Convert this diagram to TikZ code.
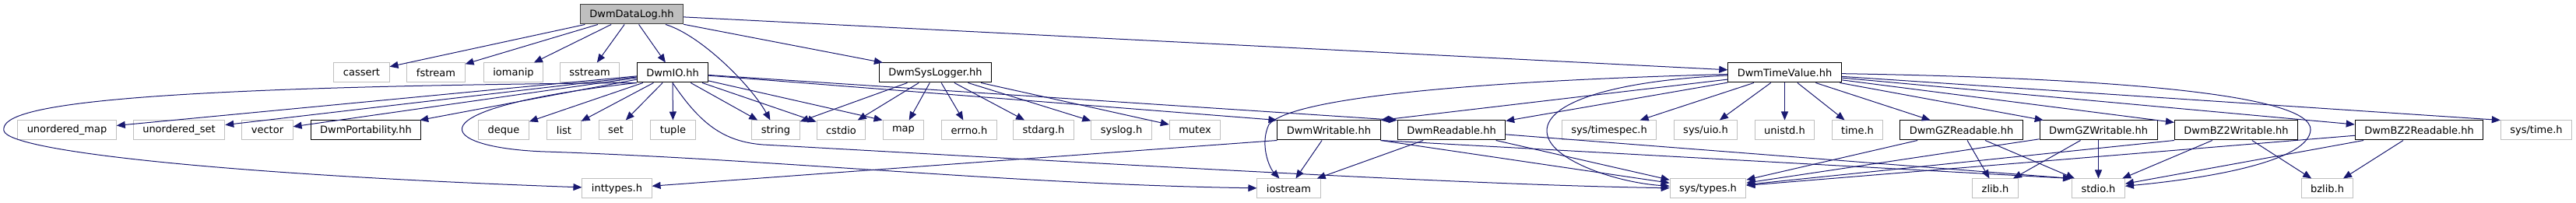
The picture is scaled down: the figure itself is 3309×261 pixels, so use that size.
\documentclass[tikz,border=0pt]{standalone}
\usepackage{fontspec}
\setmainfont{DejaVu Sans}
\usepackage{tikz}
\usetikzlibrary{arrows.meta}
\definecolor{depblue}{HTML}{191970}
\definecolor{sysframe}{HTML}{BFBFBF}
\definecolor{curfill}{HTML}{BFBFBF}
\definecolor{curframe}{HTML}{404040}
\tikzset{
  inc/.style={draw=sysframe,line width=0.5pt,minimum height=12.5pt,inner xsep=6pt,inner ysep=0pt,font=\fontsize{6.5}{7.8}\selectfont},
  hdr/.style={inc,draw=black,fill=white,line width=0.5pt},
  cur/.style={inc,draw=curframe,fill=curfill,line width=0.5pt},
  dep/.style={-{Triangle[length=5.5pt,width=4.5pt]},draw=depblue,line width=0.5pt},
}
\begin{document}
\begin{tikzpicture}[x=0.5pt,y=-0.5pt]
\useasboundingbox (0,0) rectangle (3309,261);
% top
\node[cur] (log) at (811.5,18.5) {DwmDataLog.hh};
% second row
\node[inc] (cassert) at (464.5,93.5) {cassert};
\node[inc] (fstream) at (560,93.5) {fstream};
\node[inc] (iomanip) at (659.5,93.5) {iomanip};
\node[inc] (sstream) at (757.5,93.5) {sstream};
\node[hdr] (io) at (864,93.5) {DwmIO.hh};
\node[hdr] (slog) at (1201.5,93.5) {DwmSysLogger.hh};
\node[hdr] (tv) at (2292.5,93.5) {DwmTimeValue.hh};
% third row
\node[inc] (umap) at (86,167.5) {unordered\_map};
\node[inc] (uset) at (230,167.5) {unordered\_set};
\node[inc] (vector) at (343.5,167.5) {vector};
\node[hdr] (port) at (470,167.5) {DwmPortability.hh};
\node[inc] (deque) at (647,167.5) {deque};
\node[inc] (list) at (724.5,167.5) {list};
\node[inc] (set) at (791,167.5) {set};
\node[inc] (tuple) at (864.5,167.5) {tuple};
\node[inc] (string) at (996.5,167.5) {string};
\node[inc] (cstdio) at (1080.5,167.5) {cstdio};
\node[inc] (map) at (1160.5,167.5) {map};
\node[inc] (errno) at (1245,167.5) {errno.h};
\node[inc] (stdarg) at (1340.5,167.5) {stdarg.h};
\node[inc] (syslog) at (1440.5,167.5) {syslog.h};
\node[inc] (mutex) at (1535,167.5) {mutex};
\node[hdr] (dw) at (1707,167.5) {DwmWritable.hh};
\node[hdr] (dr) at (1864.5,167.5) {DwmReadable.hh};
\node[inc] (timespec) at (2067,167.5) {sys/timespec.h};
\node[inc] (uio) at (2191,167.5) {sys/uio.h};
\node[inc] (unistd) at (2292.5,167.5) {unistd.h};
\node[inc] (timeh) at (2386,167.5) {time.h};
\node[hdr] (gzr) at (2519.5,167.5) {DwmGZReadable.hh};
\node[hdr] (gzw) at (2695.5,167.5) {DwmGZWritable.hh};
\node[hdr] (bzw) at (2872.5,167.5) {DwmBZ2Writable.hh};
\node[hdr] (bzr) at (3107.5,167.5) {DwmBZ2Readable.hh};
\node[inc] (systime) at (3258,167.5) {sys/time.h};
% bottom row
\node[inc] (inttypes) at (792.5,242.5) {inttypes.h};
\node[inc] (iostream) at (1655.5,242.5) {iostream};
\node[inc] (systypes) at (2194,242.5) {sys/types.h};
\node[inc] (zlib) at (2563,242.5) {zlib.h};
\node[inc] (stdio) at (2695.5,242.5) {stdio.h};
\node[inc] (bzlib) at (2989.5,242.5) {bzlib.h};

% DwmDataLog.hh
\foreach \dst in {cassert,fstream,iomanip,sstream,io,slog,tv} \draw[dep] (log) -- (\dst);
\draw[dep] (log) .. controls (900,45) and (965,110) .. (string);
% DwmIO.hh
\foreach \dst in {umap,uset,vector,port,deque,list,set,tuple,string,cstdio} \draw[dep] (io) -- (\dst);
\draw[dep] (io) -- (map.north west);
\draw[dep] (io) -- (dw.north west);
\draw[dep] (io) -- (dr.north west);
\draw[dep] (io.south west) .. controls (100,112) and (0,140) .. (5,168)
  .. controls (10,195) and (300,225) .. (inttypes);
\draw[dep] (io.south west) .. controls (520,140) and (560,190) .. (700,195)
  .. controls (1000,205) and (1300,237) .. (iostream);
\draw[dep] (io.south) .. controls (900,160) and (930,182) .. (980,186)
  .. controls (1500,215) and (1900,238) .. (systypes);
% DwmSysLogger.hh
\foreach \dst in {string,cstdio,map,errno,stdarg,syslog,mutex} \draw[dep] (slog) -- (\dst);
% DwmTimeValue.hh
\foreach \dst in {timespec,uio,unistd,timeh,gzr,gzw,bzw,bzr,dr} \draw[dep] (tv) -- (\dst);
\draw[dep] (tv) -- (dw.north east);
\draw[dep] (tv) -- (systime.north west);
\draw[dep] (tv) .. controls (1900,104) and (1660,125) .. (1630,160)
  .. controls (1618,185) and (1630,215) .. (iostream);
\draw[dep] (tv) .. controls (2050,105) and (1970,140) .. (1990,180)
  .. controls (2005,210) and (2080,235) .. (systypes);
\draw[dep] (tv) .. controls (2700,100) and (2970,120) .. (2968,167)
  .. controls (2966,205) and (2850,228) .. (stdio);
% readers and writers
\draw[dep] (dw) -- (iostream);
\draw[dep] (dw.south west) -- (inttypes);
\draw[dep] (dw.south east) -- (systypes);
\draw[dep] (dw.south east) -- (stdio.north west);
\draw[dep] (dr) -- (iostream);
\draw[dep] (dr) -- (systypes);
\draw[dep] (dr) -- (stdio.north west);
\foreach \dst in {systypes,zlib,stdio} \draw[dep] (gzr) -- (\dst);
\foreach \dst in {systypes,zlib,stdio} \draw[dep] (gzw) -- (\dst);
\draw[dep] (bzw.south west) -- (systypes);
\foreach \dst in {stdio,bzlib} \draw[dep] (bzw) -- (\dst);
\foreach \dst in {systypes,stdio,bzlib} \draw[dep] (bzr) -- (\dst);
\end{tikzpicture}
\end{document}
